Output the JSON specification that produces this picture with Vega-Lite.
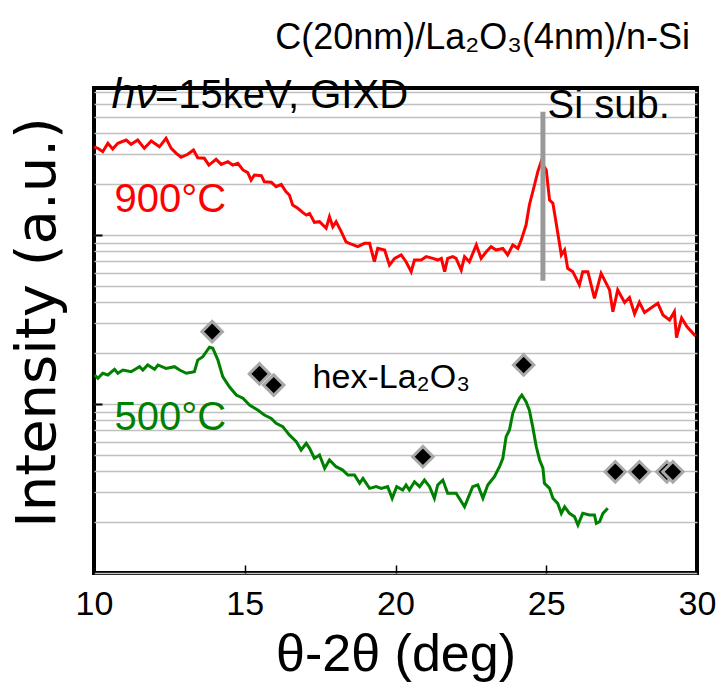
{
  "$schema": "https://vega.github.io/schema/vega-lite/v6.json",
  "autosize": "none",
  "width": 603,
  "height": 485,
  "padding": {"left": 94, "top": 88, "right": 26, "bottom": 122},
  "background": "white",
  "config": {
    "view": {"stroke": "black", "strokeWidth": 4},
    "font": "Liberation Sans"
  },
  "title": {
    "text": "C(20nm)/La₂O₃(4nm)/n-Si",
    "anchor": "end",
    "frame": "group",
    "orient": "top",
    "baseline": "alphabetic",
    "offset": 0,
    "dy": 11,
    "dx": -7,
    "font": "Liberation Sans",
    "fontSize": 36,
    "fontWeight": "normal",
    "color": "black"
  },
  "datasets": {
    "xrd": [
      {"sample": "900°C", "deg": 10.00, "logI": 2.522}, {"sample": "900°C", "deg": 10.13, "logI": 2.513}, {"sample": "900°C", "deg": 10.29, "logI": 2.493}, {"sample": "900°C", "deg": 10.46, "logI": 2.543}, {"sample": "900°C", "deg": 10.62, "logI": 2.509}, {"sample": "900°C", "deg": 10.79, "logI": 2.543}, {"sample": "900°C", "deg": 11.07, "logI": 2.562}, {"sample": "900°C", "deg": 11.23, "logI": 2.537}, {"sample": "900°C", "deg": 11.45, "logI": 2.562}, {"sample": "900°C", "deg": 11.67, "logI": 2.513}, {"sample": "900°C", "deg": 11.90, "logI": 2.556}, {"sample": "900°C", "deg": 12.17, "logI": 2.522}, {"sample": "900°C", "deg": 12.39, "logI": 2.572}, {"sample": "900°C", "deg": 12.56, "logI": 2.513}, {"sample": "900°C", "deg": 12.73, "logI": 2.483}, {"sample": "900°C", "deg": 12.89, "logI": 2.460}, {"sample": "900°C", "deg": 13.11, "logI": 2.478}, {"sample": "900°C", "deg": 13.30, "logI": 2.503}, {"sample": "900°C", "deg": 13.44, "logI": 2.457}, {"sample": "900°C", "deg": 13.66, "logI": 2.454}, {"sample": "900°C", "deg": 13.81, "logI": 2.414}, {"sample": "900°C", "deg": 14.05, "logI": 2.448}, {"sample": "900°C", "deg": 14.22, "logI": 2.418}, {"sample": "900°C", "deg": 14.44, "logI": 2.434}, {"sample": "900°C", "deg": 14.60, "logI": 2.414}, {"sample": "900°C", "deg": 14.77, "logI": 2.424}, {"sample": "900°C", "deg": 14.94, "logI": 2.385}, {"sample": "900°C", "deg": 15.10, "logI": 2.369}, {"sample": "900°C", "deg": 15.21, "logI": 2.325}, {"sample": "900°C", "deg": 15.32, "logI": 2.355}, {"sample": "900°C", "deg": 15.55, "logI": 2.351}, {"sample": "900°C", "deg": 15.65, "logI": 2.315}, {"sample": "900°C", "deg": 15.88, "logI": 2.312}, {"sample": "900°C", "deg": 16.04, "logI": 2.286}, {"sample": "900°C", "deg": 16.21, "logI": 2.300}, {"sample": "900°C", "deg": 16.37, "logI": 2.256}, {"sample": "900°C", "deg": 16.48, "logI": 2.237}, {"sample": "900°C", "deg": 16.59, "logI": 2.178}, {"sample": "900°C", "deg": 16.76, "logI": 2.158}, {"sample": "900°C", "deg": 16.92, "logI": 2.134}, {"sample": "900°C", "deg": 17.04, "logI": 2.118}, {"sample": "900°C", "deg": 17.15, "logI": 2.128}, {"sample": "900°C", "deg": 17.31, "logI": 2.075}, {"sample": "900°C", "deg": 17.48, "logI": 2.079}, {"sample": "900°C", "deg": 17.70, "logI": 2.040}, {"sample": "900°C", "deg": 17.81, "logI": 2.108}, {"sample": "900°C", "deg": 17.92, "logI": 2.049}, {"sample": "900°C", "deg": 18.03, "logI": 2.079}, {"sample": "900°C", "deg": 18.20, "logI": 2.020}, {"sample": "900°C", "deg": 18.36, "logI": 1.960}, {"sample": "900°C", "deg": 18.47, "logI": 1.951}, {"sample": "900°C", "deg": 18.75, "logI": 1.931}, {"sample": "900°C", "deg": 18.97, "logI": 1.951}, {"sample": "900°C", "deg": 19.14, "logI": 1.951}, {"sample": "900°C", "deg": 19.30, "logI": 1.842}, {"sample": "900°C", "deg": 19.41, "logI": 1.921}, {"sample": "900°C", "deg": 19.64, "logI": 1.911}, {"sample": "900°C", "deg": 19.80, "logI": 1.822}, {"sample": "900°C", "deg": 19.97, "logI": 1.862}, {"sample": "900°C", "deg": 20.19, "logI": 1.882}, {"sample": "900°C", "deg": 20.35, "logI": 1.842}, {"sample": "900°C", "deg": 20.52, "logI": 1.783}, {"sample": "900°C", "deg": 20.63, "logI": 1.852}, {"sample": "900°C", "deg": 20.85, "logI": 1.852}, {"sample": "900°C", "deg": 21.02, "logI": 1.872}, {"sample": "900°C", "deg": 21.24, "logI": 1.862}, {"sample": "900°C", "deg": 21.40, "logI": 1.852}, {"sample": "900°C", "deg": 21.52, "logI": 1.862}, {"sample": "900°C", "deg": 21.63, "logI": 1.783}, {"sample": "900°C", "deg": 21.73, "logI": 1.862}, {"sample": "900°C", "deg": 21.90, "logI": 1.872}, {"sample": "900°C", "deg": 22.01, "logI": 1.862}, {"sample": "900°C", "deg": 22.18, "logI": 1.793}, {"sample": "900°C", "deg": 22.29, "logI": 1.872}, {"sample": "900°C", "deg": 22.45, "logI": 1.842}, {"sample": "900°C", "deg": 22.68, "logI": 1.941}, {"sample": "900°C", "deg": 22.84, "logI": 1.862}, {"sample": "900°C", "deg": 23.01, "logI": 1.901}, {"sample": "900°C", "deg": 23.17, "logI": 1.931}, {"sample": "900°C", "deg": 23.34, "logI": 1.911}, {"sample": "900°C", "deg": 23.56, "logI": 1.921}, {"sample": "900°C", "deg": 23.72, "logI": 1.882}, {"sample": "900°C", "deg": 23.89, "logI": 1.941}, {"sample": "900°C", "deg": 24.06, "logI": 1.921}, {"sample": "900°C", "deg": 24.17, "logI": 1.970}, {"sample": "900°C", "deg": 24.33, "logI": 2.059}, {"sample": "900°C", "deg": 24.44, "logI": 2.178}, {"sample": "900°C", "deg": 24.61, "logI": 2.296}, {"sample": "900°C", "deg": 24.72, "logI": 2.375}, {"sample": "900°C", "deg": 24.83, "logI": 2.434}, {"sample": "900°C", "deg": 25.00, "logI": 2.385}, {"sample": "900°C", "deg": 25.11, "logI": 2.207}, {"sample": "900°C", "deg": 25.22, "logI": 2.188}, {"sample": "900°C", "deg": 25.33, "logI": 2.069}, {"sample": "900°C", "deg": 25.50, "logI": 1.882}, {"sample": "900°C", "deg": 25.61, "logI": 1.911}, {"sample": "900°C", "deg": 25.71, "logI": 1.803}, {"sample": "900°C", "deg": 25.88, "logI": 1.783}, {"sample": "900°C", "deg": 26.10, "logI": 1.704}, {"sample": "900°C", "deg": 26.21, "logI": 1.783}, {"sample": "900°C", "deg": 26.38, "logI": 1.783}, {"sample": "900°C", "deg": 26.60, "logI": 1.625}, {"sample": "900°C", "deg": 26.82, "logI": 1.773}, {"sample": "900°C", "deg": 27.10, "logI": 1.675}, {"sample": "900°C", "deg": 27.21, "logI": 1.546}, {"sample": "900°C", "deg": 27.37, "logI": 1.675}, {"sample": "900°C", "deg": 27.60, "logI": 1.601}, {"sample": "900°C", "deg": 27.76, "logI": 1.630}, {"sample": "900°C", "deg": 27.93, "logI": 1.533}, {"sample": "900°C", "deg": 28.09, "logI": 1.601}, {"sample": "900°C", "deg": 28.26, "logI": 1.541}, {"sample": "900°C", "deg": 28.53, "logI": 1.576}, {"sample": "900°C", "deg": 28.70, "logI": 1.596}, {"sample": "900°C", "deg": 28.87, "logI": 1.527}, {"sample": "900°C", "deg": 29.09, "logI": 1.497}, {"sample": "900°C", "deg": 29.25, "logI": 1.546}, {"sample": "900°C", "deg": 29.32, "logI": 1.393}, {"sample": "900°C", "deg": 29.49, "logI": 1.509}, {"sample": "900°C", "deg": 29.67, "logI": 1.457}, {"sample": "900°C", "deg": 29.95, "logI": 1.402},
      {"sample": "500°C", "deg": 10.02, "logI": 1.172}, {"sample": "500°C", "deg": 10.13, "logI": 1.152}, {"sample": "500°C", "deg": 10.29, "logI": 1.182}, {"sample": "500°C", "deg": 10.46, "logI": 1.172}, {"sample": "500°C", "deg": 10.68, "logI": 1.205}, {"sample": "500°C", "deg": 10.79, "logI": 1.182}, {"sample": "500°C", "deg": 10.96, "logI": 1.201}, {"sample": "500°C", "deg": 11.23, "logI": 1.191}, {"sample": "500°C", "deg": 11.51, "logI": 1.221}, {"sample": "500°C", "deg": 11.62, "logI": 1.201}, {"sample": "500°C", "deg": 11.78, "logI": 1.231}, {"sample": "500°C", "deg": 12.01, "logI": 1.205}, {"sample": "500°C", "deg": 12.12, "logI": 1.231}, {"sample": "500°C", "deg": 12.39, "logI": 1.211}, {"sample": "500°C", "deg": 12.67, "logI": 1.221}, {"sample": "500°C", "deg": 12.84, "logI": 1.201}, {"sample": "500°C", "deg": 13.06, "logI": 1.182}, {"sample": "500°C", "deg": 13.33, "logI": 1.191}, {"sample": "500°C", "deg": 13.44, "logI": 1.260}, {"sample": "500°C", "deg": 13.61, "logI": 1.280}, {"sample": "500°C", "deg": 13.83, "logI": 1.336}, {"sample": "500°C", "deg": 13.94, "logI": 1.330}, {"sample": "500°C", "deg": 14.11, "logI": 1.260}, {"sample": "500°C", "deg": 14.27, "logI": 1.162}, {"sample": "500°C", "deg": 14.49, "logI": 1.102}, {"sample": "500°C", "deg": 14.72, "logI": 1.053}, {"sample": "500°C", "deg": 14.94, "logI": 1.034}, {"sample": "500°C", "deg": 15.16, "logI": 0.994}, {"sample": "500°C", "deg": 15.43, "logI": 0.964}, {"sample": "500°C", "deg": 15.65, "logI": 0.935}, {"sample": "500°C", "deg": 15.88, "logI": 0.915}, {"sample": "500°C", "deg": 16.04, "logI": 0.886}, {"sample": "500°C", "deg": 16.26, "logI": 0.866}, {"sample": "500°C", "deg": 16.48, "logI": 0.817}, {"sample": "500°C", "deg": 16.71, "logI": 0.777}, {"sample": "500°C", "deg": 16.87, "logI": 0.728}, {"sample": "500°C", "deg": 17.04, "logI": 0.767}, {"sample": "500°C", "deg": 17.15, "logI": 0.738}, {"sample": "500°C", "deg": 17.31, "logI": 0.679}, {"sample": "500°C", "deg": 17.48, "logI": 0.698}, {"sample": "500°C", "deg": 17.65, "logI": 0.620}, {"sample": "500°C", "deg": 17.81, "logI": 0.669}, {"sample": "500°C", "deg": 18.03, "logI": 0.629}, {"sample": "500°C", "deg": 18.25, "logI": 0.609}, {"sample": "500°C", "deg": 18.42, "logI": 0.580}, {"sample": "500°C", "deg": 18.64, "logI": 0.580}, {"sample": "500°C", "deg": 18.81, "logI": 0.531}, {"sample": "500°C", "deg": 18.92, "logI": 0.560}, {"sample": "500°C", "deg": 19.14, "logI": 0.501}, {"sample": "500°C", "deg": 19.36, "logI": 0.511}, {"sample": "500°C", "deg": 19.53, "logI": 0.501}, {"sample": "500°C", "deg": 19.74, "logI": 0.511}, {"sample": "500°C", "deg": 19.89, "logI": 0.442}, {"sample": "500°C", "deg": 20.04, "logI": 0.511}, {"sample": "500°C", "deg": 20.24, "logI": 0.491}, {"sample": "500°C", "deg": 20.35, "logI": 0.521}, {"sample": "500°C", "deg": 20.46, "logI": 0.491}, {"sample": "500°C", "deg": 20.63, "logI": 0.540}, {"sample": "500°C", "deg": 20.80, "logI": 0.511}, {"sample": "500°C", "deg": 20.96, "logI": 0.550}, {"sample": "500°C", "deg": 21.13, "logI": 0.511}, {"sample": "500°C", "deg": 21.29, "logI": 0.442}, {"sample": "500°C", "deg": 21.40, "logI": 0.521}, {"sample": "500°C", "deg": 21.57, "logI": 0.550}, {"sample": "500°C", "deg": 21.73, "logI": 0.472}, {"sample": "500°C", "deg": 22.01, "logI": 0.472}, {"sample": "500°C", "deg": 22.29, "logI": 0.392}, {"sample": "500°C", "deg": 22.45, "logI": 0.462}, {"sample": "500°C", "deg": 22.56, "logI": 0.511}, {"sample": "500°C", "deg": 22.73, "logI": 0.521}, {"sample": "500°C", "deg": 22.90, "logI": 0.442}, {"sample": "500°C", "deg": 23.06, "logI": 0.521}, {"sample": "500°C", "deg": 23.28, "logI": 0.570}, {"sample": "500°C", "deg": 23.45, "logI": 0.629}, {"sample": "500°C", "deg": 23.56, "logI": 0.679}, {"sample": "500°C", "deg": 23.67, "logI": 0.807}, {"sample": "500°C", "deg": 23.78, "logI": 0.846}, {"sample": "500°C", "deg": 23.89, "logI": 0.945}, {"sample": "500°C", "deg": 24.00, "logI": 0.994}, {"sample": "500°C", "deg": 24.11, "logI": 1.034}, {"sample": "500°C", "deg": 24.19, "logI": 1.053}, {"sample": "500°C", "deg": 24.33, "logI": 1.014}, {"sample": "500°C", "deg": 24.44, "logI": 0.964}, {"sample": "500°C", "deg": 24.55, "logI": 0.866}, {"sample": "500°C", "deg": 24.67, "logI": 0.747}, {"sample": "500°C", "deg": 24.78, "logI": 0.669}, {"sample": "500°C", "deg": 24.89, "logI": 0.620}, {"sample": "500°C", "deg": 24.94, "logI": 0.531}, {"sample": "500°C", "deg": 25.11, "logI": 0.501}, {"sample": "500°C", "deg": 25.22, "logI": 0.442}, {"sample": "500°C", "deg": 25.38, "logI": 0.412}, {"sample": "500°C", "deg": 25.50, "logI": 0.353}, {"sample": "500°C", "deg": 25.61, "logI": 0.392}, {"sample": "500°C", "deg": 25.77, "logI": 0.353}, {"sample": "500°C", "deg": 25.94, "logI": 0.333}, {"sample": "500°C", "deg": 26.05, "logI": 0.284}, {"sample": "500°C", "deg": 26.21, "logI": 0.353}, {"sample": "500°C", "deg": 26.43, "logI": 0.343}, {"sample": "500°C", "deg": 26.60, "logI": 0.343}, {"sample": "500°C", "deg": 26.66, "logI": 0.294}, {"sample": "500°C", "deg": 26.77, "logI": 0.304}, {"sample": "500°C", "deg": 26.88, "logI": 0.353}, {"sample": "500°C", "deg": 27.04, "logI": 0.383}
    ],
    "peaks": [
      {"deg": 13.92, "logI": 1.428}, {"deg": 15.49, "logI": 1.178}, {"deg": 15.96, "logI": 1.112}, {"deg": 20.91, "logI": 0.688}, {"deg": 24.25, "logI": 1.231}, {"deg": 27.29, "logI": 0.599}, {"deg": 28.09, "logI": 0.599}, {"deg": 29.0, "logI": 0.599}, {"deg": 29.2, "logI": 0.599}
    ],
    "si": [{"deg": 24.89, "top": 2.730, "bottom": 1.730}],
    "notes": [
      {"kind": "italic", "deg": 10.58, "logI": 2.751, "text": "hν"},
      {"kind": "black", "deg": 12.02, "logI": 2.751, "text": "=15keV, GIXD"},
      {"kind": "black", "deg": 25.04, "logI": 2.692, "text": "Si sub."},
      {"kind": "900°C", "deg": 10.68, "logI": 2.138, "text": "900°C"},
      {"kind": "500°C", "deg": 10.68, "logI": 0.846, "text": "500°C"},
      {"kind": "small", "deg": 17.25, "logI": 1.095, "text": "hex-La₂O₃"}
    ]
  },
  "encoding": {
    "x": {
      "field": "deg", "type": "quantitative",
      "scale": {"domain": [10, 30], "nice": false, "zero": false},
      "axis": {
        "values": [10, 15, 20, 25, 30],
        "grid": false, "domain": false,
        "tickSize": -8, "tickWidth": 1.5, "tickColor": "black",
        "labelFont": "Liberation Sans", "labelFontSize": 34, "labelColor": "black",
        "labelPadding": 22, "labelFlush": false,
        "title": "θ-2θ (deg)",
        "titleFont": "Liberation Sans", "titleFontSize": 52, "titleFontWeight": "normal", "titleColor": "black",
        "titleBaseline": "alphabetic", "titleY": 97
      }
    },
    "y": {
      "field": "logI", "type": "quantitative",
      "scale": {"domain": [0, 2.87], "nice": false, "zero": false},
      "axis": {
        "values": [0, 0.301, 0.477, 0.602, 0.699, 0.778, 0.845, 0.903, 0.954, 1, 1.301, 1.477, 1.602, 1.699, 1.778, 1.845, 1.903, 1.954, 2, 2.301, 2.477, 2.602, 2.699, 2.778, 2.845],
        "grid": true, "gridColor": "#c0c0c0", "gridWidth": 1.5,
        "labels": false, "domain": false,
        "tickSize": -8, "tickWidth": 2, "tickColor": "black",
        "tickOpacity": {"condition": {"test": "datum.value == 1 || datum.value == 2", "value": 1}, "value": 0},
        "title": "Intensity (a.u.)",
        "titleFont": "DejaVu Sans", "titleFontSize": 56, "titleFontWeight": "normal", "titleColor": "black",
        "titleAngle": -90, "titleAlign": "center", "titleBaseline": "middle",
        "titleX": -57, "titleY": 234
      }
    }
  },
  "layer": [
    {
      "data": {"name": "xrd"},
      "mark": {"type": "line", "strokeWidth": 3},
      "encoding": {
        "color": {"field": "sample", "type": "nominal", "scale": {"domain": ["900°C", "500°C"], "range": ["#ff0000", "#008000"]}, "legend": null}
      }
    },
    {
      "data": {"name": "si"},
      "mark": {"type": "rule", "color": "#999999", "strokeWidth": 5},
      "encoding": {
        "y": {"field": "top", "type": "quantitative"},
        "y2": {"field": "bottom"}
      }
    },
    {
      "data": {"name": "peaks"},
      "mark": {"type": "point", "shape": "diamond", "filled": true, "fill": "black", "stroke": "#a8a8a8", "strokeWidth": 3, "size": 420, "opacity": 1}
    },
    {
      "data": {"name": "notes"},
      "transform": [{"filter": "datum.kind == 'italic'"}],
      "mark": {"type": "text", "align": "left", "baseline": "alphabetic", "fontSize": 43, "fontStyle": "italic", "color": "black", "font": "Liberation Sans"},
      "encoding": {"text": {"field": "text"}}
    },
    {
      "data": {"name": "notes"},
      "transform": [{"filter": "datum.kind == 'black'"}],
      "mark": {"type": "text", "align": "left", "baseline": "alphabetic", "fontSize": 40, "color": "black", "font": "Liberation Sans"},
      "encoding": {"text": {"field": "text"}}
    },
    {
      "data": {"name": "notes"},
      "transform": [{"filter": "datum.kind == 'small'"}],
      "mark": {"type": "text", "align": "left", "baseline": "alphabetic", "fontSize": 34, "color": "black", "font": "Liberation Sans"},
      "encoding": {"text": {"field": "text"}}
    },
    {
      "data": {"name": "notes"},
      "transform": [{"filter": "datum.kind == '900°C' || datum.kind == '500°C'"}],
      "mark": {"type": "text", "align": "left", "baseline": "alphabetic", "fontSize": 40, "font": "Liberation Sans"},
      "encoding": {
        "text": {"field": "text"},
        "color": {"field": "kind", "type": "nominal", "scale": {"domain": ["900°C", "500°C"], "range": ["#ff0000", "#008000"]}, "legend": null}
      }
    }
  ]
}
